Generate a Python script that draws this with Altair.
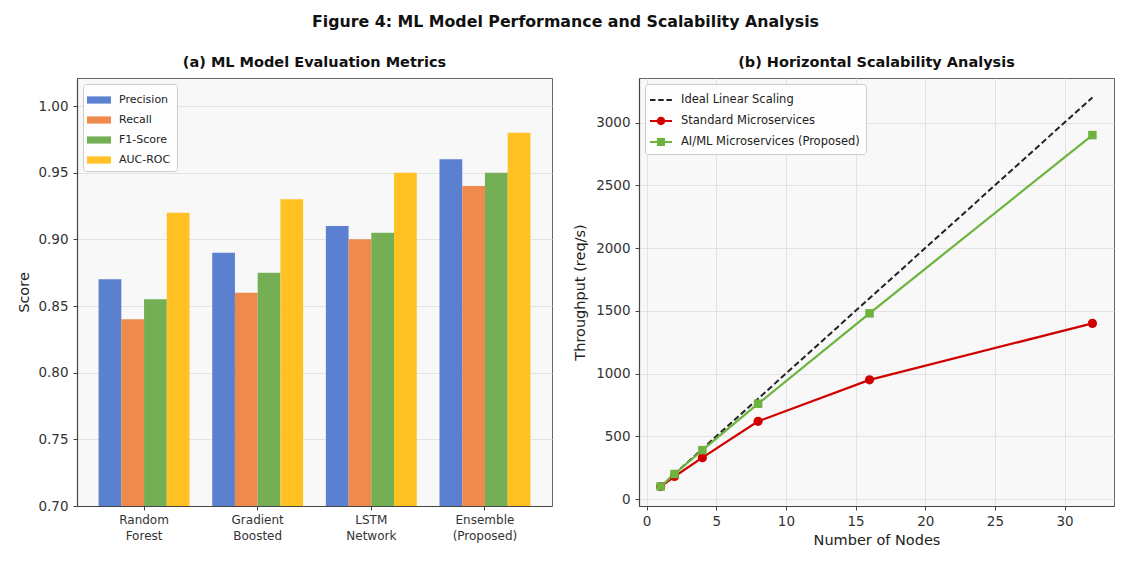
import altair as alt
import pandas as pd

# ---------------- data ----------------
models = ["Random\nForest", "Gradient\nBoosted", "LSTM\nNetwork", "Ensemble\n(Proposed)"]
metrics = ["Precision", "Recall", "F1-Score", "AUC-ROC"]
precision = [0.87, 0.89, 0.91, 0.96]
recall = [0.84, 0.86, 0.90, 0.94]
f1_score = [0.855, 0.875, 0.905, 0.95]
auc_roc = [0.92, 0.93, 0.95, 0.98]
bar_colors = ["#5B80D0", "#EE8A4B", "#74AF55", "#FFC222"]
score_ticks = [0.70, 0.75, 0.80, 0.85, 0.90, 0.95, 1.00]

nodes = [1, 2, 4, 8, 16, 32]
ideal = [100, 200, 400, 800, 1600, 3200]
standard = [100, 180, 330, 620, 950, 1400]
aiml = [100, 200, 390, 760, 1480, 2900]
series_names = ["Ideal Linear Scaling", "Standard Microservices", "AI/ML Microservices (Proposed)"]
line_colors = ["#222222", "#D00000", "#6DB33F"]
node_ticks = [0, 5, 10, 15, 20, 25, 30]
thr_ticks = [0, 500, 1000, 1500, 2000, 2500, 3000]

FONT = "DejaVu Sans"
PW, PH = 475, 428

# legend glyphs (filled outlines in a [-1, 1] box): dashed line / line+circle / line+square
legend_glyphs = [
    "M-1.1,-0.09H-0.55V0.09H-1.1ZM-0.28,-0.09H0.27V0.09H-0.28ZM0.54,-0.09H1.09V0.09H0.54Z",
    "M-1.1,-0.1H1.1V0.1H-1.1ZM0.42,0A0.42,0.42,0,1,1,-0.42,0A0.42,0.42,0,1,1,0.42,0Z",
    "M-1.1,-0.1H1.1V0.1H-1.1ZM-0.4,-0.4H0.4V0.4H-0.4Z",
]

# ---------------- tables ----------------
rows = []
for vals, m in zip([precision, recall, f1_score, auc_roc], metrics):
    for mod, v in zip(models, vals):
        rows.append({"model": mod, "metric": m, "score": v})
bars_df = pd.DataFrame(rows)

lrows = []
for vals, s in zip([ideal, standard, aiml], series_names):
    for n, v in zip(nodes, vals):
        lrows.append({"nodes": n, "throughput": v, "series": s})
lines_df = pd.DataFrame(lrows)


def legend_box(fs):
    return dict(
        title=None, orient="top-left", offset=6, padding=6,
        fillColor="rgba(255,255,255,0.85)", strokeColor="#cccccc", cornerRadius=3,
        labelFont=FONT, labelFontSize=fs, labelColor="#222222", labelLimit=400,
        symbolSize=400, symbolStrokeWidth=0, labelOffset=10, rowPadding=5,
    )


# ---------------- panel (a) ----------------
bar_legend = alt.Legend(symbolType="M-1.2,-0.36H1.2V0.36H-1.2Z", **legend_box(11))

bar = alt.Chart(bars_df).mark_bar(clip=True).encode(
    x=alt.X("model:N", sort=models,
            scale=alt.Scale(paddingInner=0.2, paddingOuter=0.19),
            axis=alt.Axis(title=None, labelAngle=0, grid=False,
                          labelExpr="split(datum.label, '\\n')",
                          labelFontSize=12, labelLineHeight=16, labelPadding=4)),
    xOffset=alt.XOffset("metric:N", sort=metrics,
                        scale=alt.Scale(paddingInner=0, paddingOuter=0)),
    y=alt.Y("score:Q", scale=alt.Scale(domain=[0.70, 1.021], nice=False, zero=False),
            axis=alt.Axis(values=score_ticks, format=".2f", title="Score",
                          titlePadding=6)),
    y2=alt.datum(0.70),
    color=alt.Color("metric:N", sort=metrics,
                    scale=alt.Scale(domain=metrics, range=bar_colors),
                    legend=bar_legend),
).properties(
    width=PW, height=PH,
    title=alt.TitleParams("(a) ML Model Evaluation Metrics", fontSize=14.5,
                          fontWeight="bold", font=FONT, offset=8, color="#111111"),
)

# ---------------- panel (b) ----------------
line_legend = alt.Legend(**legend_box(11.5))

color_enc = alt.Color("series:N", sort=series_names,
                      scale=alt.Scale(domain=series_names, range=line_colors),
                      legend=line_legend)
x_enc = alt.X("nodes:Q", scale=alt.Scale(domain=[-0.55, 33.55], nice=False, zero=False),
              axis=alt.Axis(values=node_ticks, title="Number of Nodes", titlePadding=6,
                            labelPadding=4))
y_enc = alt.Y("throughput:Q", scale=alt.Scale(domain=[-55, 3355], nice=False, zero=False),
              axis=alt.Axis(values=thr_ticks, format="d", title="Throughput (req/s)",
                            titlePadding=8))

base = alt.Chart(lines_df)
# empty layer that only carries the legend glyphs
legend_layer = base.transform_filter("datum.nodes < 0").mark_point(filled=True, opacity=1).encode(
    x=x_enc, y=y_enc, color=color_enc,
    shape=alt.Shape("series:N", sort=series_names,
                    scale=alt.Scale(domain=series_names, range=legend_glyphs),
                    legend=line_legend),
)
ideal_line = base.transform_filter(alt.datum.series == series_names[0]).mark_line(
    strokeDash=[6, 3], strokeWidth=2).encode(x=x_enc, y=y_enc, color=color_enc)
model_lines = base.transform_filter(alt.datum.series != series_names[0]).mark_line(
    strokeWidth=2.2).encode(x=x_enc, y=y_enc, color=color_enc)
circle_pts = base.transform_filter(alt.datum.series == series_names[1]).mark_point(
    filled=True, size=85, opacity=1, shape="circle").encode(x=x_enc, y=y_enc, color=color_enc)
square_pts = base.transform_filter(alt.datum.series == series_names[2]).mark_point(
    filled=True, size=72, opacity=1, shape="square").encode(x=x_enc, y=y_enc, color=color_enc)

lines = alt.layer(legend_layer, ideal_line, model_lines, circle_pts, square_pts).properties(
    width=PW, height=PH,
    title=alt.TitleParams("(b) Horizontal Scalability Analysis", fontSize=14.5,
                          fontWeight="bold", font=FONT, offset=8, color="#111111"),
)

chart = alt.hconcat(bar, lines, spacing=19).resolve_scale(
    color="independent", shape="independent"
).resolve_legend(color="independent", shape="independent").properties(
    title=alt.TitleParams("Figure 4: ML Model Performance and Scalability Analysis",
                          fontSize=15.8, fontWeight="bold", font=FONT, anchor="middle",
                          offset=23, color="#111111"),
    padding={"left": 8, "top": 6, "right": 0, "bottom": 0},
).configure_view(
    fill="#F8F8F8", stroke="#666666", strokeWidth=1,
).configure_axis(
    labelFont=FONT, titleFont=FONT, labelFontSize=13.5, titleFontSize=14.5,
    labelColor="#333333", titleColor="#222222", titleFontWeight="normal",
    domainColor="#444444", domainWidth=1.2, tickColor="#444444", tickSize=4,
    labelPadding=5, gridColor="#E3E3E3", gridWidth=1,
).configure_title(font=FONT)

chart.save("out.html", embed_options={"renderer": "svg", "actions": False})
